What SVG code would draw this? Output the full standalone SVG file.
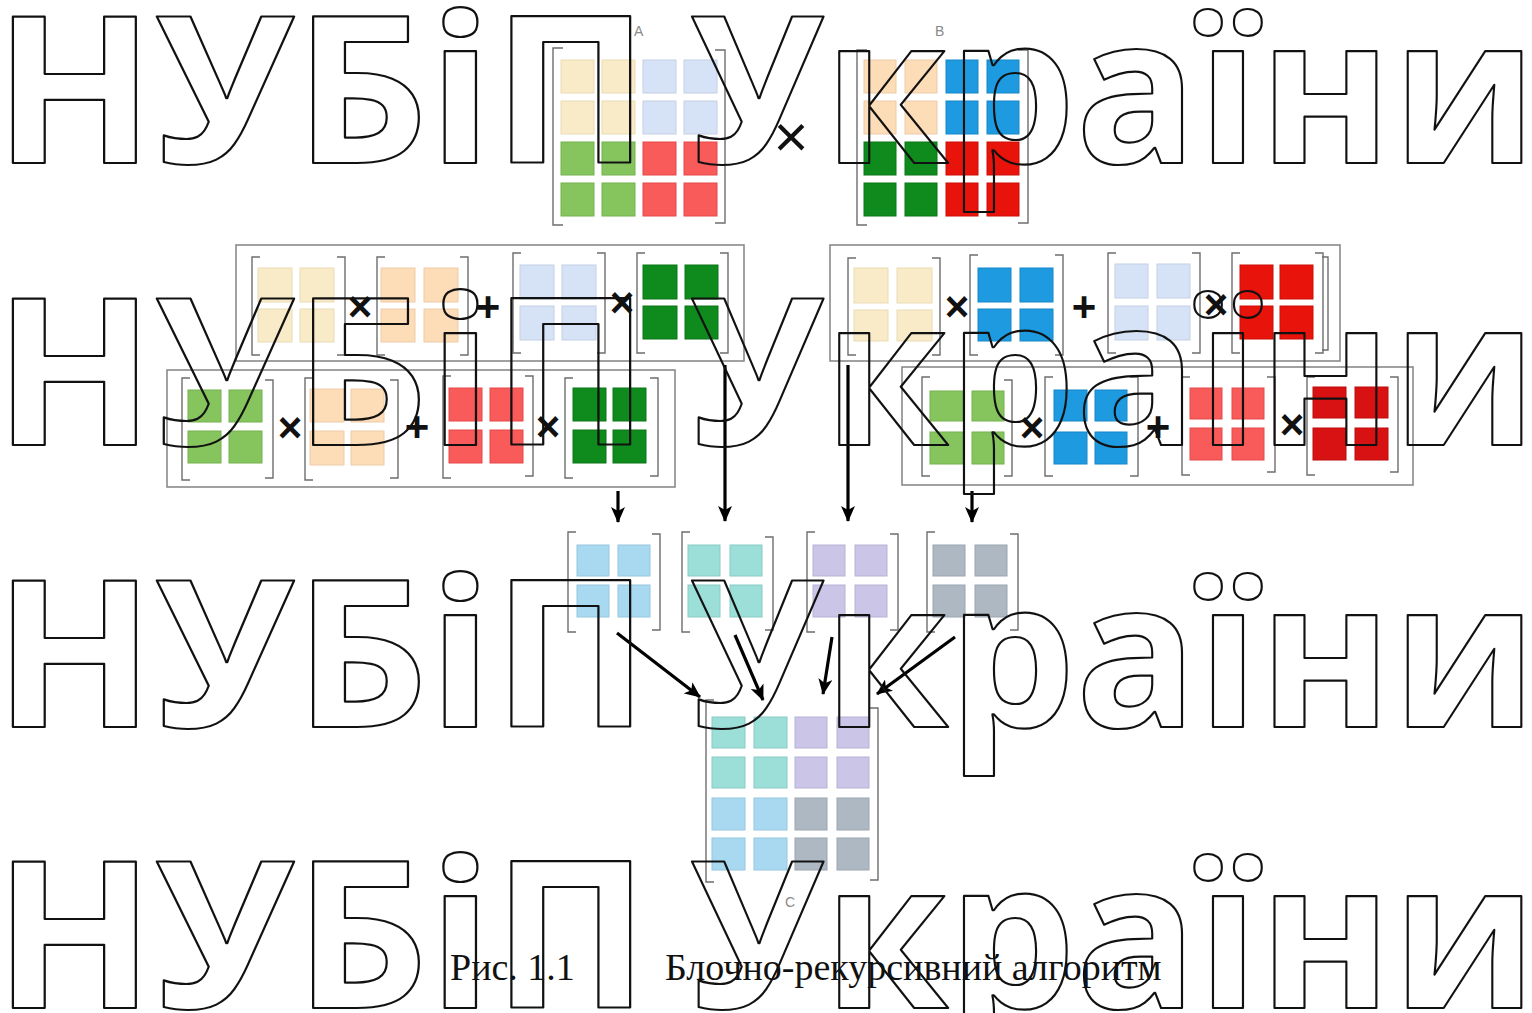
<svg xmlns="http://www.w3.org/2000/svg" width="1532" height="1013" viewBox="0 0 1532 1013">
<defs>
<marker id="ah" markerUnits="userSpaceOnUse" markerWidth="16" markerHeight="14" refX="15" refY="7" orient="auto">
<path d="M0,0 L16,7 L0,14 L4,7 Z" fill="#000"/>
</marker>
<style>
.bg{fill:#fff}
.box{fill:none;stroke:#8a8a8a;stroke-width:1.6}
.br{fill:none;stroke:#6e6e6e;stroke-width:1.4}
.lbl{font-family:"Liberation Sans",Arial,sans-serif;font-size:14px;fill:#8a8a8a}
.op{font-family:"Liberation Sans",Arial,sans-serif;font-weight:bold;font-size:42px;fill:#111;text-anchor:middle}
.opt{font-family:"Liberation Sans",Arial,sans-serif;font-size:60px;fill:#111;text-anchor:middle}
.cap{font-family:"Liberation Serif","Times New Roman",serif;font-size:38px;fill:#111}
.wm{font-family:"Open Sans","DejaVu Sans",sans-serif;font-weight:bold;font-size:205px;fill:none;stroke:#111;stroke-width:2.2;stroke-linejoin:round}
.arr{stroke:#000;stroke-width:3.2;fill:none;marker-end:url(#ah)}
.py{fill:#FAEBC8;stroke:#EADBB6}
.pe{fill:#FCDDB8;stroke:#EDCBA6}
.lb{fill:#D6E2F6;stroke:#C4D0E4}
.lg{fill:#86C45E;stroke:#74B24E}
.lr{fill:#F95A5A;stroke:#E54848}
.bl{fill:#1E9BE0;stroke:#1686C8}
.dg{fill:#0F8B1D;stroke:#0A7616}
.rd{fill:#E8140C;stroke:#CC0C06}
.dr{fill:#D81212;stroke:#BE0A0A}
.sk{fill:#A8D9F0;stroke:#94C6DE}
.tl{fill:#9CDED8;stroke:#88CAC4}
.lv{fill:#CBC6E8;stroke:#B7B2D4}
.gy{fill:#ADB8C3;stroke:#9AA5B0}
rect{stroke-width:1}
</style>
</defs>
<rect class="bg" x="0" y="0" width="1532" height="1013"/>

<!-- Matrix A -->
<g id="matrixA">
<text class="lbl" x="634" y="36">A</text>
<path class="br" d="M563,48 H553 V225 H563"/>
<path class="br" d="M715,50 H725 V223 H715"/>
<rect class="py" x="561" y="60" width="33" height="33"/><rect class="py" x="602" y="60" width="33" height="33"/>
<rect class="py" x="561" y="101" width="33" height="33"/><rect class="py" x="602" y="101" width="33" height="33"/>
<rect class="lb" x="643" y="60" width="33" height="33"/><rect class="lb" x="684" y="60" width="33" height="33"/>
<rect class="lb" x="643" y="101" width="33" height="33"/><rect class="lb" x="684" y="101" width="33" height="33"/>
<rect class="lg" x="561" y="142" width="33" height="33"/><rect class="lg" x="602" y="142" width="33" height="33"/>
<rect class="lg" x="561" y="183" width="33" height="33"/><rect class="lg" x="602" y="183" width="33" height="33"/>
<rect class="lr" x="643" y="142" width="33" height="33"/><rect class="lr" x="684" y="142" width="33" height="33"/>
<rect class="lr" x="643" y="183" width="33" height="33"/><rect class="lr" x="684" y="183" width="33" height="33"/>
</g>
<text class="opt" x="791" y="157">×</text>

<!-- Matrix B -->
<g id="matrixB">
<text class="lbl" x="935" y="36">B</text>
<path class="br" d="M867,50 H857 V225 H867"/>
<path class="br" d="M1018,50 H1028 V223 H1018"/>
<rect class="pe" x="864" y="60" width="32" height="33"/><rect class="pe" x="905" y="60" width="32" height="33"/>
<rect class="pe" x="864" y="101" width="32" height="33"/><rect class="pe" x="905" y="101" width="32" height="33"/>
<rect class="bl" x="946" y="60" width="32" height="33"/><rect class="bl" x="987" y="60" width="32" height="33"/>
<rect class="bl" x="946" y="101" width="32" height="33"/><rect class="bl" x="987" y="101" width="32" height="33"/>
<rect class="dg" x="864" y="142" width="32" height="33"/><rect class="dg" x="905" y="142" width="32" height="33"/>
<rect class="dg" x="864" y="183" width="32" height="33"/><rect class="dg" x="905" y="183" width="32" height="33"/>
<rect class="rd" x="946" y="142" width="32" height="33"/><rect class="rd" x="987" y="142" width="32" height="33"/>
<rect class="rd" x="946" y="183" width="32" height="33"/><rect class="rd" x="987" y="183" width="32" height="33"/>
</g>

<!-- Row 2 left -->
<g id="row2left">
<rect class="box" x="236" y="245" width="508" height="116"/>
<path class="br" d="M260,257 H252 V355 H260"/><path class="br" d="M337,257 H345 V355 H337"/>
<rect class="py" x="258" y="268" width="34" height="34"/><rect class="py" x="300" y="268" width="34" height="34"/>
<rect class="py" x="258" y="309" width="34" height="33"/><rect class="py" x="300" y="309" width="34" height="33"/>
<text class="op" x="360" y="321">×</text>
<path class="br" d="M385,257 H377 V355 H385"/><path class="br" d="M460,257 H468 V355 H460"/>
<rect class="pe" x="381" y="268" width="34" height="34"/><rect class="pe" x="424" y="268" width="34" height="34"/>
<rect class="pe" x="381" y="309" width="34" height="33"/><rect class="pe" x="424" y="309" width="34" height="33"/>
<text class="op" x="488" y="321">+</text>
<path class="br" d="M521,253 H513 V353 H521"/><path class="br" d="M597,253 H605 V353 H597"/>
<rect class="lb" x="520" y="265" width="34" height="34"/><rect class="lb" x="562" y="265" width="34" height="34"/>
<rect class="lb" x="520" y="306" width="34" height="34"/><rect class="lb" x="562" y="306" width="34" height="34"/>
<text class="op" x="622" y="317">×</text>
<path class="br" d="M645,253 H637 V353 H645"/><path class="br" d="M720,253 H728 V353 H720"/>
<rect class="dg" x="643" y="265" width="34" height="34"/><rect class="dg" x="685" y="265" width="33" height="34"/>
<rect class="dg" x="643" y="306" width="34" height="33"/><rect class="dg" x="685" y="306" width="33" height="33"/>
</g>

<!-- Row 2 right -->
<g id="row2right">
<rect class="box" x="830" y="245" width="510" height="116"/>
<path class="br" d="M856,258 H848 V355 H856"/><path class="br" d="M932,258 H940 V355 H932"/>
<rect class="py" x="854" y="268" width="34" height="35"/><rect class="py" x="897" y="268" width="35" height="35"/>
<rect class="py" x="854" y="310" width="34" height="31"/><rect class="py" x="897" y="310" width="35" height="31"/>
<text class="op" x="957" y="321">×</text>
<path class="br" d="M978,255 H970 V355 H978"/><path class="br" d="M1055,255 H1063 V355 H1055"/>
<rect class="bl" x="978" y="268" width="33" height="34"/><rect class="bl" x="1020" y="268" width="33" height="34"/>
<rect class="bl" x="978" y="309" width="33" height="32"/><rect class="bl" x="1020" y="309" width="33" height="32"/>
<text class="op" x="1084" y="321">+</text>
<path class="br" d="M1116,253 H1108 V353 H1116"/><path class="br" d="M1192,253 H1200 V353 H1192"/>
<rect class="lb" x="1115" y="264" width="33" height="34"/><rect class="lb" x="1157" y="264" width="33" height="34"/>
<rect class="lb" x="1115" y="306" width="33" height="34"/><rect class="lb" x="1157" y="306" width="33" height="34"/>
<text class="op" x="1216" y="319">×</text>
<path class="br" d="M1240,253 H1232 V353 H1240"/><path class="br" d="M1315,253 H1323 V353 H1315"/>
<path class="br" d="M1322,257 H1328 V350 H1322"/>
<rect class="rd" x="1240" y="265" width="33" height="34"/><rect class="rd" x="1280" y="265" width="33" height="34"/>
<rect class="rd" x="1240" y="306" width="33" height="33"/><rect class="rd" x="1280" y="306" width="33" height="33"/>
</g>

<!-- Row 3 left -->
<g id="row3left">
<rect class="box" x="167" y="370" width="508" height="117"/>
<path class="br" d="M190,378 H182 V480 H190"/><path class="br" d="M265,380 H273 V478 H265"/>
<rect class="lg" x="188" y="390" width="33" height="32"/><rect class="lg" x="229" y="390" width="33" height="32"/>
<rect class="lg" x="188" y="431" width="33" height="32"/><rect class="lg" x="229" y="431" width="33" height="32"/>
<text class="op" x="290" y="442">×</text>
<path class="br" d="M313,378 H305 V480 H313"/><path class="br" d="M390,380 H398 V478 H390"/>
<rect class="pe" x="310" y="389" width="34" height="33"/><rect class="pe" x="351" y="389" width="33" height="33"/>
<rect class="pe" x="310" y="431" width="34" height="34"/><rect class="pe" x="351" y="431" width="33" height="34"/>
<text class="op" x="417" y="441">+</text>
<path class="br" d="M451,376 H443 V478 H451"/><path class="br" d="M525,376 H533 V476 H525"/>
<rect class="lr" x="449" y="388" width="33" height="33"/><rect class="lr" x="490" y="388" width="33" height="33"/>
<rect class="lr" x="449" y="430" width="33" height="33"/><rect class="lr" x="490" y="430" width="33" height="33"/>
<text class="op" x="548" y="441">×</text>
<path class="br" d="M573,378 H565 V478 H573"/><path class="br" d="M650,378 H658 V476 H650"/>
<rect class="dg" x="573" y="388" width="33" height="33"/><rect class="dg" x="613" y="388" width="33" height="33"/>
<rect class="dg" x="573" y="430" width="33" height="33"/><rect class="dg" x="613" y="430" width="33" height="33"/>
</g>

<!-- Row 3 right -->
<g id="row3right">
<rect class="box" x="902" y="367" width="511" height="118"/>
<path class="br" d="M930,377 H922 V476 H930"/><path class="br" d="M1004,380 H1012 V476 H1004"/>
<rect class="lg" x="930" y="391" width="33" height="30"/><rect class="lg" x="972" y="391" width="32" height="30"/>
<rect class="lg" x="930" y="432" width="33" height="32"/><rect class="lg" x="972" y="432" width="32" height="32"/>
<text class="op" x="1032" y="442">×</text>
<path class="br" d="M1053,377 H1045 V476 H1053"/><path class="br" d="M1130,377 H1138 V476 H1130"/>
<rect class="bl" x="1054" y="390" width="33" height="31"/><rect class="bl" x="1095" y="390" width="32" height="31"/>
<rect class="bl" x="1054" y="432" width="33" height="32"/><rect class="bl" x="1095" y="432" width="32" height="32"/>
<text class="op" x="1158" y="441">+</text>
<path class="br" d="M1190,377 H1182 V475 H1190"/><path class="br" d="M1267,377 H1275 V472 H1267"/>
<rect class="lr" x="1190" y="388" width="32" height="31"/><rect class="lr" x="1232" y="388" width="32" height="31"/>
<rect class="lr" x="1190" y="428" width="32" height="32"/><rect class="lr" x="1232" y="428" width="32" height="32"/>
<text class="op" x="1292" y="439">×</text>
<path class="br" d="M1315,377 H1307 V475 H1315"/><path class="br" d="M1390,377 H1398 V472 H1390"/>
<rect class="dr" x="1313" y="387" width="33" height="31"/><rect class="dr" x="1355" y="387" width="33" height="31"/>
<rect class="dr" x="1313" y="428" width="33" height="32"/><rect class="dr" x="1355" y="428" width="33" height="32"/>
</g>

<!-- Row 4 -->
<g id="row4m1">
<path class="br" d="M576,532 H568 V632 H576"/><path class="br" d="M652,534 H660 V630 H652"/>
<rect class="sk" x="577" y="545" width="32" height="31"/><rect class="sk" x="618" y="545" width="32" height="31"/>
<rect class="sk" x="577" y="585" width="32" height="32"/><rect class="sk" x="618" y="585" width="32" height="32"/>
</g>
<g id="row4m2">
<path class="br" d="M690,532 H682 V632 H690"/><path class="br" d="M765,537 H773 V630 H765"/>
<rect class="tl" x="688" y="545" width="32" height="31"/><rect class="tl" x="730" y="545" width="32" height="31"/>
<rect class="tl" x="688" y="585" width="32" height="32"/><rect class="tl" x="730" y="585" width="32" height="32"/>
</g>
<g id="row4m3">
<path class="br" d="M815,532 H807 V632 H815"/><path class="br" d="M890,534 H898 V630 H890"/>
<rect class="lv" x="813" y="545" width="32" height="31"/><rect class="lv" x="855" y="545" width="32" height="31"/>
<rect class="lv" x="813" y="585" width="32" height="32"/><rect class="lv" x="855" y="585" width="32" height="32"/>
</g>
<g id="row4m4">
<path class="br" d="M935,532 H927 V632 H935"/><path class="br" d="M1010,534 H1018 V630 H1010"/>
<rect class="gy" x="933" y="545" width="32" height="31"/><rect class="gy" x="975" y="545" width="32" height="31"/>
<rect class="gy" x="933" y="585" width="32" height="32"/><rect class="gy" x="975" y="585" width="32" height="32"/>
</g>

<!-- Result C -->
<g id="matrixC">
<path class="br" d="M714,700 H706 V882 H714"/><path class="br" d="M870,708 H878 V880 H870"/>
<rect class="tl" x="712" y="717" width="33" height="31"/><rect class="tl" x="754" y="717" width="33" height="31"/>
<rect class="tl" x="712" y="757" width="33" height="31"/><rect class="tl" x="754" y="757" width="33" height="31"/>
<rect class="lv" x="795" y="717" width="32" height="31"/><rect class="lv" x="837" y="717" width="32" height="31"/>
<rect class="lv" x="795" y="757" width="32" height="31"/><rect class="lv" x="837" y="757" width="32" height="31"/>
<rect class="sk" x="712" y="798" width="33" height="32"/><rect class="sk" x="754" y="798" width="33" height="32"/>
<rect class="sk" x="712" y="838" width="33" height="32"/><rect class="sk" x="754" y="838" width="33" height="32"/>
<rect class="gy" x="795" y="798" width="32" height="32"/><rect class="gy" x="837" y="798" width="32" height="32"/>
<rect class="gy" x="795" y="838" width="32" height="32"/><rect class="gy" x="837" y="838" width="32" height="32"/>
<text class="lbl" x="785" y="907">C</text>
</g>

<!-- Connectors -->
<g id="connectors">
<line class="arr" x1="618" y1="491" x2="618" y2="522"/>
<line class="arr" x1="725" y1="365" x2="725" y2="521"/>
<line class="arr" x1="848" y1="365" x2="848" y2="521"/>
<line class="arr" x1="972" y1="491" x2="972" y2="522"/>
<line class="arr" x1="617" y1="633" x2="700" y2="697"/>
<line class="arr" x1="735" y1="635" x2="763" y2="700"/>
<line class="arr" x1="832" y1="637" x2="823" y2="694"/>
<line class="arr" x1="955" y1="637" x2="877" y2="694"/>
</g>

<!-- Caption -->
<g id="caption">
<text class="cap" x="450" y="980">Рис. 1.1</text>
<text class="cap" x="665" y="980">Блочно-рекурсивний алгоритм</text>
</g>

<!-- Watermark -->
<g id="watermark">
<text class="wm" x="-6" y="163" textLength="655" lengthAdjust="spacingAndGlyphs">НУБіП</text>
<text class="wm" x="690" y="163" textLength="847" lengthAdjust="spacingAndGlyphs">України</text>
<text class="wm" x="-6" y="445" textLength="655" lengthAdjust="spacingAndGlyphs">НУБіП</text>
<text class="wm" x="690" y="445" textLength="847" lengthAdjust="spacingAndGlyphs">України</text>
<text class="wm" x="-6" y="727" textLength="655" lengthAdjust="spacingAndGlyphs">НУБіП</text>
<text class="wm" x="690" y="727" textLength="847" lengthAdjust="spacingAndGlyphs">України</text>
<text class="wm" x="-6" y="1008" textLength="655" lengthAdjust="spacingAndGlyphs">НУБіП</text>
<text class="wm" x="690" y="1008" textLength="847" lengthAdjust="spacingAndGlyphs">України</text>
</g>
</svg>
